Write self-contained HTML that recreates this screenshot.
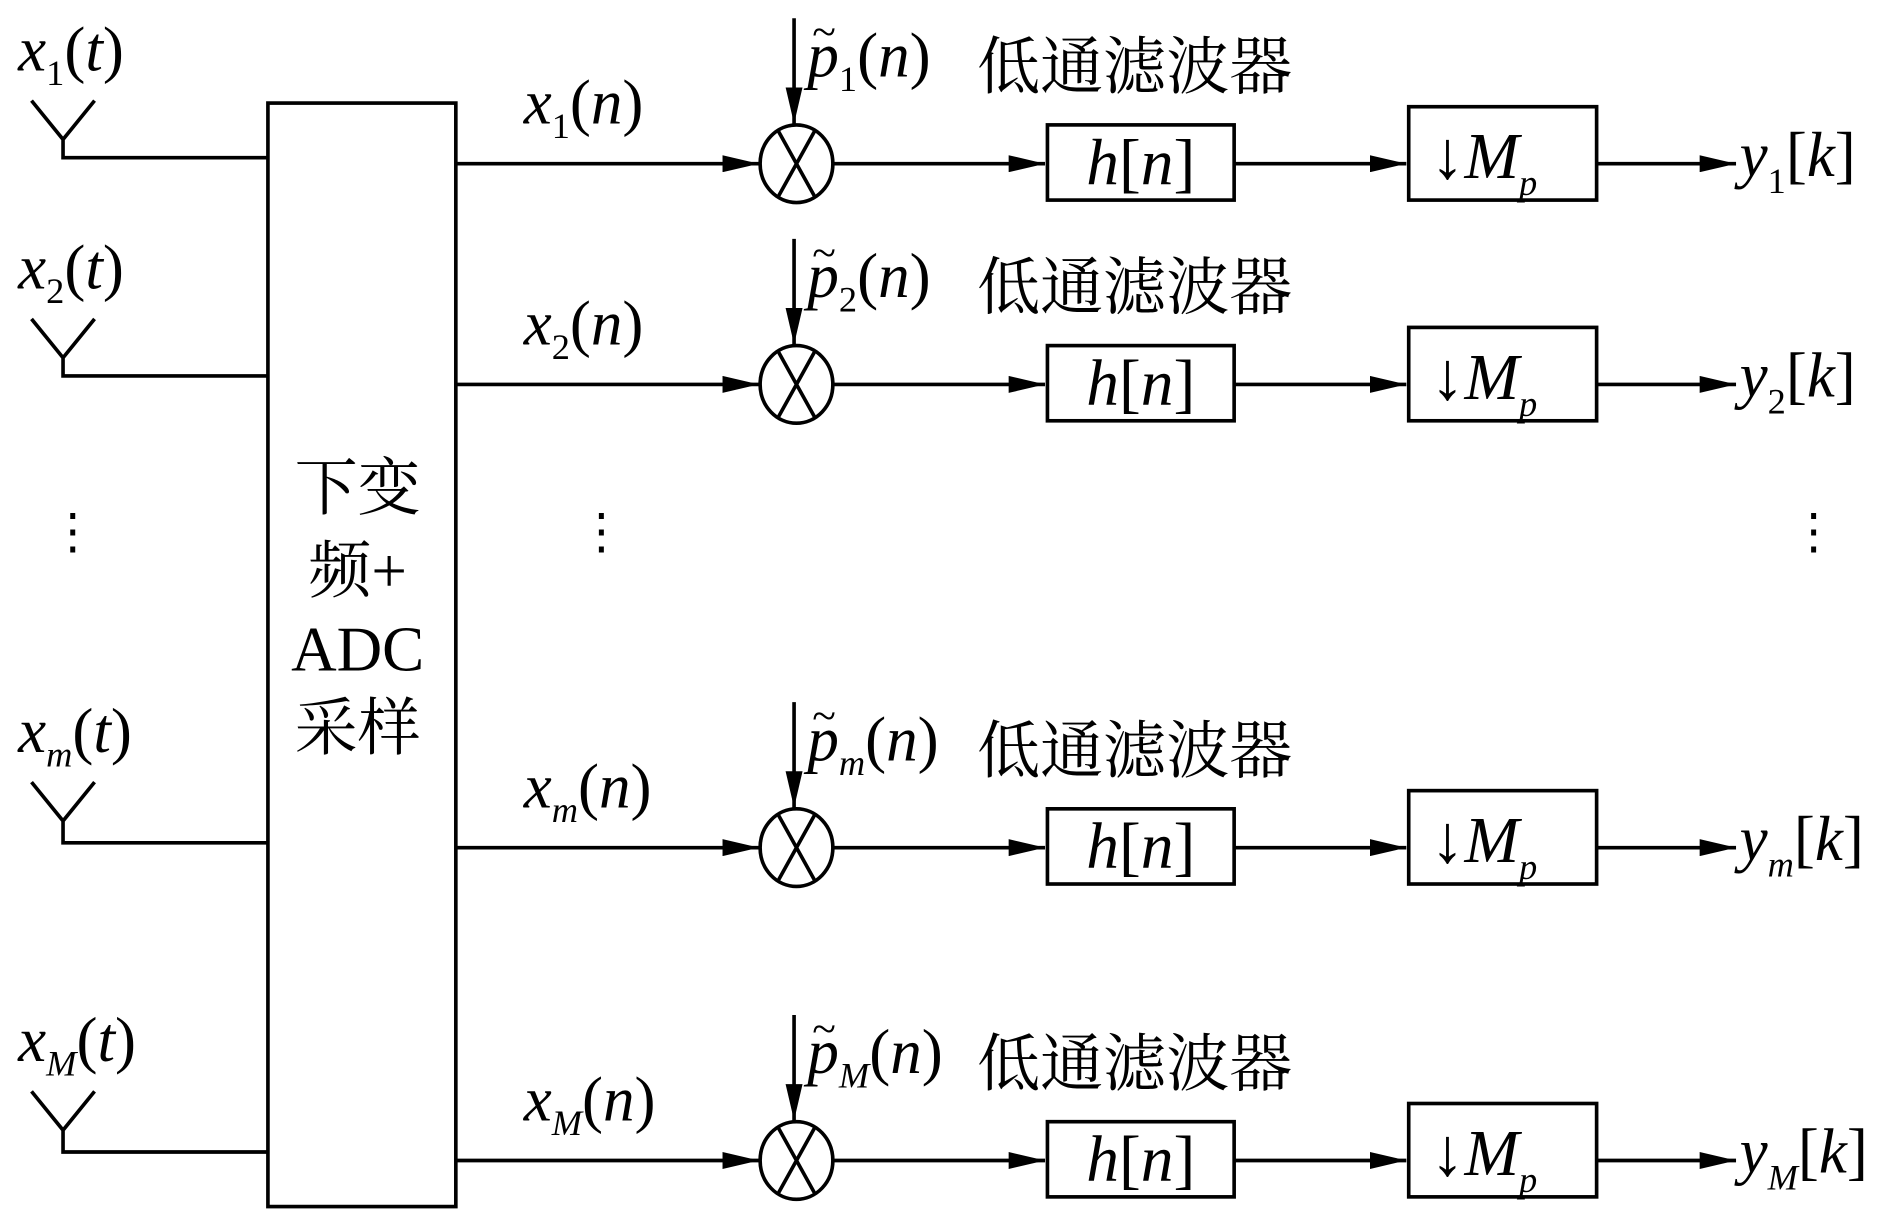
<!DOCTYPE html>
<html><head><meta charset="utf-8"><style>
html,body{margin:0;padding:0;background:#fff}
svg{display:block}
text{font-family:"Liberation Serif","Noto Serif CJK SC",serif;fill:#000}
.i{font-style:italic}
.cj{font-family:"Liberation Serif","Noto Serif CJK SC","Noto Sans CJK SC",serif}
</style></head><body>
<svg id="s" width="1890" height="1209" viewBox="0 0 1559 997" preserveAspectRatio="none" xmlns="http://www.w3.org/2000/svg">
<defs>
<marker id="b" markerWidth="30" markerHeight="14" refX="30" refY="7" orient="auto" markerUnits="userSpaceOnUse"><path d="M0,0L30,7L0,14z"/></marker></defs>
<g stroke="#000" stroke-width="3" fill="none">
<rect x="221" y="85" width="155" height="910"/>
</g>
<text x="295" y="420" font-size="52" text-anchor="middle" class="cj">下变</text>
<text x="295" y="488" font-size="52" text-anchor="middle" class="cj">频+</text>
<text x="295" y="553" font-size="52" text-anchor="middle">ADC</text>
<text x="295" y="618" font-size="52" text-anchor="middle" class="cj">采样</text>
<g font-size="40">
<text x="60" y="452" text-anchor="middle">⋮</text>
<text x="496" y="452" text-anchor="middle">⋮</text>
<text x="1496" y="452" text-anchor="middle">⋮</text>
</g>
<g id="rows"></g>
</svg>
<script>
var rows=[
 {ant:130,top:83,out:135,sub:"1"},
 {ant:310,top:263,out:317,sub:"2"},
 {ant:695,top:645,out:699,sub:"m"},
 {ant:950,top:900,out:957,sub:"M"}];
var h="";
rows.forEach(function(r){
 var o=r.out, s=r.sub, apex=r.top+32;
 h+='<g stroke="#000" stroke-width="3" fill="none">';
 h+='<path d="M26,'+r.top+'L52,'+apex+'L78,'+r.top+'M52,'+apex+'V'+r.ant+'H221"/>';
 h+='<line x1="376" y1="'+o+'" x2="626" y2="'+o+'" marker-end="url(#b)"/>';
 h+='<ellipse cx="657" cy="'+o+'" rx="30" ry="32"/>';
 h+='<path d="M642,'+(o-27)+'L672,'+(o+27)+'M672,'+(o-27)+'L642,'+(o+27)+'"/>';
 h+='<line x1="655" y1="'+(o-120)+'" x2="655" y2="'+(o-33)+'" marker-end="url(#b)"/>';
 h+='<line x1="687" y1="'+o+'" x2="862" y2="'+o+'" marker-end="url(#b)"/>';
 h+='<rect x="864" y="'+(o-32)+'" width="154" height="62"/>';
 h+='<line x1="1018" y1="'+o+'" x2="1160" y2="'+o+'" marker-end="url(#b)"/>';
 h+='<rect x="1162" y="'+(o-47)+'" width="155" height="77"/>';
 h+='<line x1="1317" y1="'+o+'" x2="1432" y2="'+o+'" marker-end="url(#b)"/>';
 h+='</g>';
 var ss=(s==="1"||s==="2")?'':'class="i"';
 h+='<text x="15" y="'+(r.top-25)+'" font-size="52"><tspan class="i">x</tspan><tspan font-size="30" dy="12" '+ss+'>'+s+'</tspan><tspan dy="-12">(</tspan><tspan class="i">t</tspan>)</text>';
 h+='<text x="432" y="'+(o-33)+'" font-size="52"><tspan class="i">x</tspan><tspan font-size="30" dy="12" '+ss+'>'+s+'</tspan><tspan dy="-12">(</tspan><tspan class="i">n</tspan>)</text>';
 h+='<text x="666" y="'+(o-72)+'" font-size="52"><tspan class="i">p</tspan><tspan font-size="30" dy="12" '+ss+'>'+s+'</tspan><tspan dy="-12">(</tspan><tspan class="i">n</tspan>)</text>';
 h+='<text x="670" y="'+(o-97)+'" font-size="36">~</text>';
 h+='<text x="806" y="'+(o-62)+'" font-size="52" class="cj">低通滤波器</text>';
 h+='<text x="941" y="'+(o+17)+'" font-size="54" text-anchor="middle"><tspan class="i">h</tspan>[<tspan class="i">n</tspan>]</text>';
 h+='<text x="1180" y="'+(o+12)+'" font-size="54"><tspan font-size="56">↓</tspan><tspan class="i">M</tspan><tspan font-size="30" dy="14" class="i">p</tspan></text>';
 h+='<text x="1435" y="'+(o+10)+'" font-size="52"><tspan class="i">y</tspan><tspan font-size="30" dy="14" '+ss+'>'+s+'</tspan><tspan dy="-14">[</tspan><tspan class="i">k</tspan>]</text>';
});
document.getElementById("rows").innerHTML=h;
</script>
</body></html>
